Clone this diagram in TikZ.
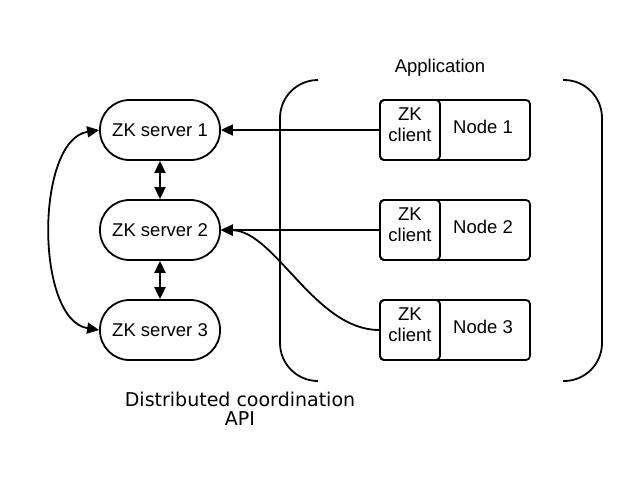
\documentclass[tikz,border=0pt]{standalone}
\usepackage{fontspec}
\setmainfont{Liberation Sans}
\newfontfamily\capfont{DejaVu Sans}
\usetikzlibrary{arrows.meta}
\begin{document}
\begin{tikzpicture}[x=1pt,y=-1pt,
  line width=1.8pt,
  every node/.style={font=\fontsize{18.5}{21}\selectfont},
  server/.style={draw, rectangle, rounded corners=29.5pt, minimum width=120pt, minimum height=60pt, inner sep=0pt},
  appbox/.style={draw, rectangle, rounded corners=4pt, minimum width=150pt, minimum height=60pt, inner sep=0pt},
  zkbox/.style={draw, rectangle, rounded corners=4pt, minimum width=60pt, minimum height=60pt, inner sep=0pt},
  tip/.style={-{Triangle[length=12pt,width=11pt]}},
  dtip/.style={{Triangle[length=12pt,width=11pt]}-{Triangle[length=12pt,width=11pt]}}
]
\useasboundingbox (0,0) rectangle (640,480);
% servers
\node[server] (s1) at (160,130) {ZK server 1};
\node[server] (s2) at (160,230) {ZK server 2};
\node[server] (s3) at (160,330) {ZK server 3};
% application nodes
\node[appbox] (n1) at (455,130) {};
\node[appbox] (n2) at (455,230) {};
\node[appbox] (n3) at (455,330) {};
\node[zkbox] (c1) at (410,130) {};
\node[zkbox] (c2) at (410,230) {};
\node[zkbox] (c3) at (410,330) {};
\node[align=center] (l1) at (410,125) {ZK\\client};
\node[align=center] (l2) at (410,225) {ZK\\client};
\node[align=center] (l3) at (410,325) {ZK\\client};
\node (t1) at (483,127) {Node 1};
\node (t2) at (483,227) {Node 2};
\node (t3) at (483,327) {Node 3};
% brackets
\draw[rounded corners=38pt] (318,80) -- (280,80) -- (280,381) -- (318,381);
\draw[rounded corners=38pt] (563,80) -- (602,80) -- (602,381) -- (563,381);
\node (app) at (440,68) {Application};
% connectors
\draw[dtip] (s1) -- (s2);
\draw[dtip] (s2) -- (s3);
\draw[dtip] (s1.west) .. controls (35,140) and (35,320) .. (s3.west);
\draw[tip] (c1.west) -- (s1.east);
\draw[tip] (c2.west) -- (s2.east);
\draw[tip] (c3.west) .. controls (315,330) and (275,231) .. (s2.east);
% caption
\node[font=\capfont\fontsize{19}{19}\selectfont, align=center] (cap) at (240,409) {Distributed coordination\\API};
\end{tikzpicture}
\end{document}
